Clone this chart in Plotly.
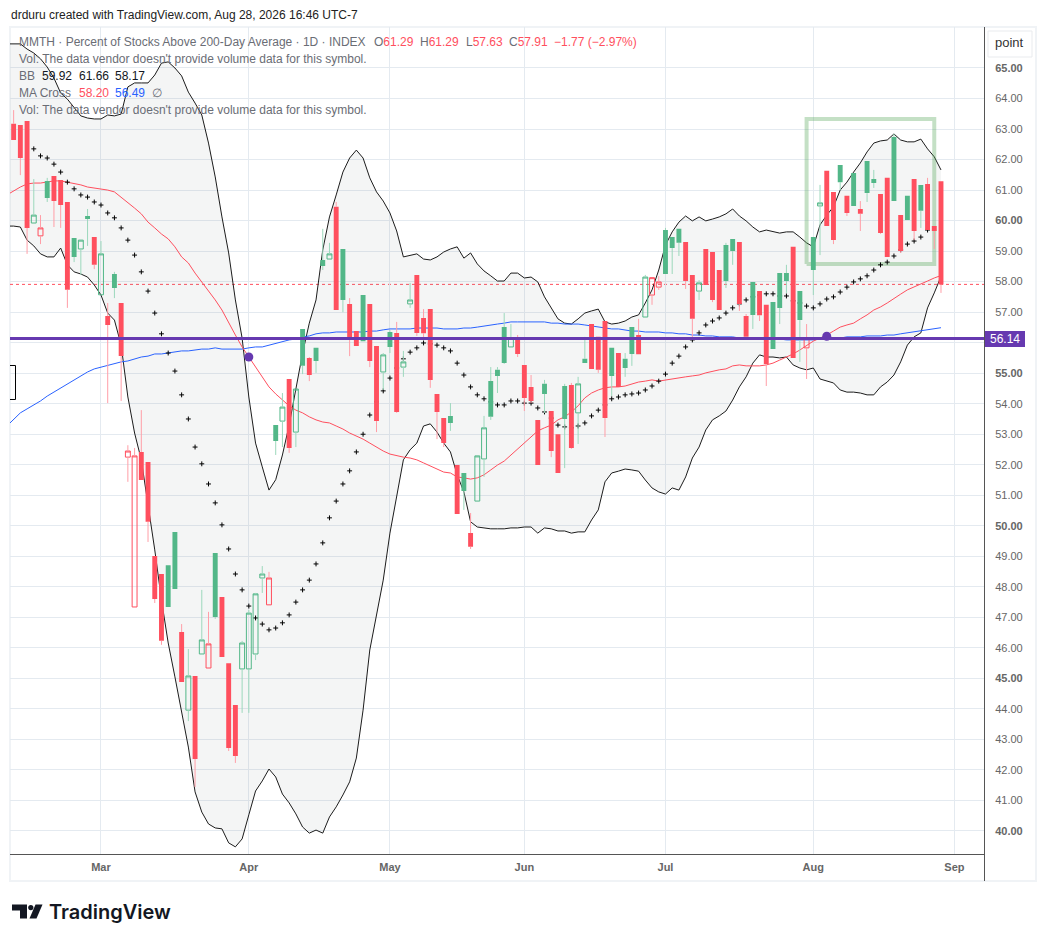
import pandas as pd
import plotly.graph_objects as go

# trading days, first one only carries the indicators (it sits left of the frame)
holidays = ["2026-02-16", "2026-04-03", "2026-05-25", "2026-06-19", "2026-07-03"]
dates = [d.strftime("%Y-%m-%d") for d in pd.bdate_range("2026-02-09", "2026-09-01")
         if d.strftime("%Y-%m-%d") not in holidays]
candle_dates = dates[1:140]

opens = [63.17, 63.13, 63.26, 59.92, 59.50, 61.30, 61.46, 61.33, 60.61, 59.43,
         59.07, 60.15, 59.46, 57.57, 56.87, 58.25, 57.30, 52.25, 47.34, 52.42,
         52.09, 49.01, 48.42, 48.71, 49.80, 46.52, 43.96, 45.08, 45.80, 45.34,
         49.11, 47.67, 45.50, 44.13, 45.31, 45.31, 45.80, 48.29, 47.41, 53.30,
         53.43, 54.81, 53.07, 56.45, 55.50, 55.83, 58.71, 58.74, 60.45, 59.07,
         57.27, 56.38, 57.56, 57.27, 55.89, 55.04, 56.35, 56.32, 55.20, 57.27,
         58.22, 56.81, 57.10, 54.32, 53.53, 53.60, 51.99, 51.73, 49.76, 50.81,
         52.19, 54.74, 55.11, 56.51, 55.86, 56.09, 55.27, 54.55, 53.47, 54.65,
         53.76, 53.00, 54.58, 54.61, 53.70, 55.47, 56.61, 56.19, 56.71, 55.83,
         55.66, 55.47, 56.51, 56.25, 56.84, 57.56, 57.82, 59.69, 59.46, 59.73,
         59.30, 58.22, 57.69, 59.07, 58.97, 58.38, 59.20, 59.40, 59.30, 56.87,
         57.99, 57.69, 57.24, 57.33, 58.28, 58.28, 59.14, 57.69, 55.83, 59.46,
         60.48, 61.63, 60.94, 61.82, 60.81, 61.56, 60.38, 61.95, 61.36, 60.87,
         61.40, 62.74, 60.18, 60.81, 61.36, 61.17, 61.20, 59.82, 61.29]
highs = [63.62, 63.13, 63.26, 61.36, 60.18, 61.40, 61.46, 61.33, 60.61, 59.43,
         59.36, 60.38, 59.46, 59.33, 57.30, 58.32, 57.30, 52.64, 52.55, 53.79,
         52.09, 49.01, 48.42, 48.71, 49.80, 46.78, 45.96, 45.08, 47.90, 47.18,
         49.11, 47.67, 45.50, 44.13, 46.23, 47.24, 47.80, 48.68, 48.49, 53.30,
         54.35, 54.81, 54.48, 56.45, 55.53, 55.83, 59.73, 59.27, 60.61, 59.07,
         57.46, 56.38, 57.56, 57.27, 55.89, 55.66, 56.41, 56.68, 55.73, 57.96,
         58.22, 57.10, 57.10, 54.32, 53.53, 54.02, 51.99, 51.73, 50.42, 52.29,
         53.60, 55.20, 55.20, 56.97, 56.61, 56.25, 55.27, 54.94, 53.47, 54.78,
         53.76, 53.00, 54.65, 54.68, 54.88, 56.19, 56.61, 56.19, 56.71, 55.83,
         55.66, 55.66, 56.51, 56.78, 58.22, 58.13, 58.18, 59.76, 59.46, 59.73,
         59.30, 58.22, 58.05, 59.07, 58.97, 58.38, 59.27, 59.40, 59.30, 56.94,
         57.99, 57.69, 57.24, 57.33, 58.28, 58.55, 59.14, 57.69, 56.61, 59.46,
         61.17, 61.63, 60.94, 61.82, 60.81, 61.56, 60.64, 61.95, 61.66, 60.87,
         61.40, 62.84, 60.18, 60.81, 61.36, 61.17, 61.40, 59.82, 61.29]
lows = [62.64, 61.49, 58.91, 59.92, 59.23, 60.61, 59.79, 59.76, 57.14, 58.64,
        58.22, 59.17, 58.41, 57.57, 54.02, 57.46, 54.09, 51.44, 47.34, 51.50,
        49.47, 47.47, 46.10, 47.34, 47.93, 44.88, 43.60, 41.44, 45.80, 45.34,
        46.95, 45.70, 42.62, 42.23, 43.87, 43.87, 45.60, 47.80, 47.41, 52.32,
        52.58, 52.39, 52.58, 54.97, 54.74, 55.01, 58.38, 58.74, 57.07, 57.00,
        55.56, 55.89, 56.05, 55.20, 53.07, 54.45, 55.66, 53.70, 54.88, 57.14,
        56.22, 56.15, 54.52, 52.84, 52.58, 53.11, 50.39, 50.52, 49.24, 50.81,
        51.60, 53.47, 54.35, 55.30, 55.86, 55.53, 53.76, 54.02, 51.99, 53.70,
        52.25, 51.73, 51.89, 52.52, 52.68, 55.33, 55.14, 55.01, 52.91, 54.25,
        54.55, 54.88, 55.24, 55.62, 56.84, 57.24, 57.73, 58.25, 58.25, 58.84,
        57.76, 56.09, 57.40, 57.89, 57.33, 57.07, 57.79, 58.55, 57.04, 56.19,
        56.45, 56.71, 54.58, 55.79, 56.61, 57.63, 55.50, 55.37, 54.81, 57.56,
        58.87, 59.82, 59.23, 61.00, 60.15, 60.48, 59.66, 60.61, 61.07, 59.56,
        58.81, 60.64, 58.94, 60.02, 59.36, 59.76, 59.69, 59.07, 57.63]
closes = [62.64, 62.05, 59.76, 60.18, 59.76, 60.74, 60.64, 60.51, 57.73, 58.81,
          59.36, 60.05, 58.55, 58.91, 56.58, 57.79, 55.56, 52.45, 52.29, 51.50,
          50.13, 47.60, 46.23, 47.34, 47.93, 44.88, 45.08, 42.36, 46.26, 46.13,
          47.01, 45.70, 42.72, 42.46, 46.16, 47.14, 47.77, 48.42, 48.29, 52.78,
          53.89, 52.55, 54.48, 55.24, 54.94, 55.40, 58.51, 58.91, 57.07, 57.40,
          56.15, 55.89, 56.05, 55.40, 53.43, 55.60, 55.86, 53.73, 55.37, 57.40,
          56.32, 56.31, 54.78, 53.73, 52.71, 53.37, 50.39, 51.14, 49.31, 52.29,
          53.21, 53.57, 54.91, 55.33, 56.15, 55.63, 54.19, 54.09, 51.99, 54.32,
          52.45, 51.73, 53.50, 52.55, 54.65, 55.33, 55.14, 55.11, 53.53, 54.91,
          54.55, 55.17, 55.63, 55.62, 58.15, 58.13, 57.99, 58.25, 59.10, 59.27,
          58.02, 56.78, 57.96, 57.89, 57.40, 57.07, 58.02, 59.00, 57.27, 56.19,
          56.91, 56.90, 55.30, 55.79, 57.14, 58.02, 55.50, 56.74, 56.15, 58.38,
          60.58, 59.82, 59.36, 61.26, 60.25, 60.48, 60.22, 60.90, 61.23, 59.59,
          58.81, 60.64, 59.00, 60.02, 59.66, 60.32, 59.69, 59.66, 57.91]

bb_upper = [65.79, 65.79, 65.79, 65.62, 65.49, 65.30, 65.03, 64.67, 64.18, 63.98,
            63.72, 63.43, 63.36, 63.33, 63.33, 63.46, 63.43, 63.49, 64.38, 64.51,
            64.51, 64.51, 64.77, 65.16, 65.20, 65.00, 64.74, 64.21, 63.85, 63.46,
            62.54, 61.43, 60.12, 58.94, 57.40, 56.15, 54.22, 52.71, 51.93, 51.17,
            51.51, 52.32, 53.30, 54.45, 55.66, 56.64, 57.40, 59.04, 60.12, 60.84,
            61.59, 62.05, 62.31, 62.05, 61.40, 60.94, 60.64, 60.25, 59.66, 58.81,
            58.87, 58.91, 58.74, 58.71, 58.81, 58.97, 59.07, 59.14, 58.77, 58.94,
            58.58, 58.35, 58.19, 58.02, 58.02, 58.28, 58.28, 58.12, 58.15, 57.99,
            57.50, 57.14, 56.78, 56.64, 56.61, 56.78, 56.97, 57.04, 57.10, 56.68,
            56.61, 56.64, 56.71, 56.84, 56.91, 57.30, 57.73, 58.38, 59.20, 59.63,
            59.95, 60.15, 59.99, 60.12, 59.99, 60.05, 60.12, 60.22, 60.38, 60.15,
            59.99, 59.79, 59.63, 59.69, 59.63, 59.59, 59.63, 59.63, 59.46, 59.27,
            59.14, 59.86, 60.18, 60.45, 61.00, 61.26, 61.59, 61.89, 62.25, 62.54,
            62.61, 62.64, 62.84, 62.64, 62.58, 62.58, 62.67, 62.35, 62.09, 61.66]
bb_lower = [59.82, 59.82, 59.79, 59.36, 59.17, 58.91, 58.81, 58.81, 59.10, 58.55,
            58.32, 58.25, 58.15, 57.89, 57.56, 56.97, 56.74, 55.92, 54.22, 53.04,
            52.16, 50.75, 49.21, 47.57, 46.16, 45.05, 43.87, 42.75, 41.28, 40.62,
            40.23, 40.10, 40.07, 39.61, 39.48, 39.74, 40.53, 41.31, 41.64, 42.03,
            41.77, 41.21, 40.92, 40.56, 40.13, 39.93, 40.03, 39.93, 40.46, 40.79,
            41.18, 41.61, 42.39, 43.96, 45.93, 47.14, 48.22, 49.76, 51.01, 52.16,
            52.49, 52.71, 53.27, 53.34, 53.07, 52.71, 52.42, 51.67, 51.11, 50.13,
            49.96, 49.93, 49.90, 49.90, 49.90, 49.93, 49.93, 49.96, 49.96, 49.76,
            49.93, 49.90, 49.83, 49.83, 49.76, 49.80, 49.80, 50.19, 50.52, 51.44,
            51.73, 51.79, 51.86, 51.83, 51.79, 51.50, 51.24, 51.11, 51.04, 51.24,
            51.17, 51.60, 52.22, 52.58, 53.14, 53.47, 53.60, 53.76, 54.12, 54.55,
            54.88, 55.33, 55.60, 55.53, 55.53, 55.50, 55.53, 55.27, 55.17, 55.11,
            55.17, 54.81, 54.74, 54.68, 54.45, 54.38, 54.38, 54.35, 54.29, 54.29,
            54.55, 54.71, 54.94, 55.37, 55.92, 56.19, 56.32, 57.14, 57.63, 58.17]
ma_fast = [60.84, 60.97, 61.10, 61.20, 61.23, 61.23, 61.26, 61.30, 61.30, 61.26,
           61.23, 61.17, 61.10, 61.07, 61.04, 61.00, 60.94, 60.77, 60.61, 60.41,
           60.22, 59.95, 59.76, 59.56, 59.40, 59.14, 58.81, 58.61, 58.28, 57.99,
           57.66, 57.40, 57.07, 56.64, 56.25, 55.86, 55.53, 55.17, 54.84, 54.55,
           54.32, 54.12, 53.93, 53.79, 53.70, 53.57, 53.47, 53.40, 53.37, 53.27,
           53.17, 53.04, 52.94, 52.84, 52.71, 52.58, 52.45, 52.35, 52.29, 52.25,
           52.22, 52.16, 52.06, 51.96, 51.86, 51.76, 51.73, 51.60, 51.57, 51.53,
           51.57, 51.67, 51.83, 51.99, 52.12, 52.32, 52.49, 52.71, 52.91, 53.11,
           53.21, 53.30, 53.47, 53.57, 53.73, 53.93, 54.19, 54.35, 54.45, 54.52,
           54.55, 54.55, 54.58, 54.65, 54.71, 54.74, 54.78, 54.74, 54.78, 54.81,
           54.84, 54.88, 54.91, 54.94, 55.01, 55.07, 55.11, 55.14, 55.24, 55.27,
           55.24, 55.24, 55.24, 55.27, 55.33, 55.43, 55.53, 55.63, 55.76, 55.92,
           56.05, 56.15, 56.25, 56.38, 56.51, 56.58, 56.64, 56.78, 56.91, 57.07,
           57.17, 57.30, 57.46, 57.59, 57.73, 57.82, 57.92, 58.02, 58.12, 58.20]
ma_slow = [53.27, 53.50, 53.70, 53.83, 53.96, 54.09, 54.25, 54.38, 54.52, 54.65,
           54.78, 54.91, 55.04, 55.14, 55.20, 55.27, 55.33, 55.37, 55.40, 55.47,
           55.53, 55.56, 55.63, 55.63, 55.66, 55.69, 55.73, 55.73, 55.76, 55.79,
           55.79, 55.83, 55.79, 55.79, 55.79, 55.79, 55.83, 55.86, 55.86, 55.92,
           55.96, 56.02, 56.09, 56.12, 56.19, 56.22, 56.29, 56.32, 56.32, 56.35,
           56.35, 56.35, 56.35, 56.35, 56.38, 56.38, 56.42, 56.45, 56.45, 56.45,
           56.45, 56.48, 56.48, 56.48, 56.48, 56.45, 56.45, 56.45, 56.48, 56.48,
           56.51, 56.55, 56.58, 56.61, 56.64, 56.68, 56.68, 56.68, 56.68, 56.68,
           56.68, 56.64, 56.64, 56.61, 56.61, 56.61, 56.58, 56.55, 56.51, 56.48,
           56.45, 56.45, 56.42, 56.38, 56.38, 56.35, 56.35, 56.35, 56.32, 56.32,
           56.29, 56.29, 56.25, 56.25, 56.22, 56.22, 56.19, 56.19, 56.19, 56.15,
           56.15, 56.15, 56.12, 56.12, 56.12, 56.12, 56.09, 56.09, 56.09, 56.09,
           56.09, 56.12, 56.15, 56.15, 56.15, 56.19, 56.19, 56.19, 56.22, 56.22,
           56.22, 56.25, 56.25, 56.29, 56.32, 56.35, 56.38, 56.43, 56.46, 56.49]
# parabolic SAR starts on 2026-02-13 and stops two bars before the last one
sar = [62.35, 62.12, 62.05, 61.85, 61.59, 61.26, 61.04, 60.84, 60.77, 60.61,
       60.51, 60.25, 60.09, 59.76, 59.36, 58.87, 58.32, 57.69, 56.97, 56.29,
       55.66, 55.07, 54.29, 53.50, 52.58, 52.03, 51.37, 50.75, 50.03, 49.24,
       48.42, 47.90, 47.37, 46.98, 46.78, 46.59, 46.65, 46.82, 47.08, 47.50,
       47.90, 48.22, 48.75, 49.44, 50.26, 50.81, 51.37, 51.80, 52.42, 53.00,
       53.63, 54.06, 54.42, 54.84, 55.17, 55.47, 55.69, 55.83, 55.99, 55.96,
       55.92, 55.83, 55.73, 55.33, 54.94, 54.55, 54.29, 54.16, 54.06, 53.96,
       53.96, 54.09, 54.09, 54.02, 54.02, 53.86, 53.73, 53.53, 53.30, 53.24,
       53.21, 53.27, 53.37, 53.60, 53.79, 53.96, 54.16, 54.22, 54.29, 54.32,
       54.35, 54.45, 54.58, 54.74, 54.97, 55.33, 55.56, 55.86, 56.09, 56.32,
       56.58, 56.71, 56.81, 56.97, 57.14, 57.27, 57.40, 57.50, 57.56, 57.60,
       57.60, 57.53, 57.53, 57.37, 57.30, 57.20, 57.14, 57.27, 57.43, 57.50,
       57.66, 57.82, 57.99, 58.09, 58.19, 58.38, 58.55, 58.64, 58.84, 59.04,
       59.23, 59.33, 59.46, 59.69]
sar_dates = dates[4:138]

cross_dates = ["2026-04-01", "2026-08-05"]
cross_values = [55.53, 56.21]

level_purple = 56.14
level_close = 57.91
box_dates = ["2026-07-31", "2026-08-27"]
box_values = [58.58, 63.33]

month_days = ["2026-03-02", "2026-04-01", "2026-05-01", "2026-06-01", "2026-07-01", "2026-08-03", "2026-09-01"]
month_names = ["Mar", "Apr", "May", "Jun", "Jul", "Aug", "Sep"]
# 56.00 is hidden behind the purple price badge
price_ticks = list(range(40, 66))
price_labels = [f"<b>{p}.00</b>" if p % 5 == 0 else ("" if p == 56 else f"{p}.00") for p in price_ticks]

WIDTH, HEIGHT = 1046, 942
LEFT, RIGHT, TOP, BOTTOM = 10, 984, 27, 854
RED = "#FF4F5E"
GREEN = "#52B788"
RED_WICK = "#FF9EA7"
GREEN_WICK = "#9CD8BC"
PURPLE = "#6639B0"
GREY = "#6A6D75"
FONT = "Liberation Sans"
x_range = [0.46, 145.4]
y_range = [39.246, 66.343]


# paper coordinates count from the plot area, so convert from picture pixels
def px(x):
    return (x - LEFT) / (RIGHT - LEFT)


def py(y):
    return 1 - (y - TOP) / (BOTTOM - TOP)


def poly(points):
    return "M" + " L".join(f"{px(x):.5f},{py(y):.5f}" for x, y in points) + " Z"


def label(x, y, text, color=GREY, size=12, anchor="left"):
    fig.add_annotation(xref="paper", yref="paper", x=px(x), y=py(y), text=text, showarrow=False,
                       xanchor=anchor, yanchor="middle", borderpad=0,
                       font=dict(family=FONT, size=size, color=color))


def red(text):
    return f'<span style="color:{RED}">{text}</span>'


fig = go.Figure()

# indicators go on the main axes, candles on an overlay so they stay on top
fig.add_trace(go.Scatter(x=dates, y=bb_upper, mode="lines", line=dict(color="#1c1c1c", width=1)))
fig.add_trace(go.Scatter(x=dates, y=bb_lower, mode="lines", line=dict(color="#1c1c1c", width=1),
                         fill="tonexty", fillcolor="rgba(120,130,130,0.08)"))
fig.add_trace(go.Scatter(x=[box_dates[0], box_dates[1], box_dates[1], box_dates[0], box_dates[0]],
                         y=[box_values[0], box_values[0], box_values[1], box_values[1], box_values[0]],
                         mode="lines", line=dict(color="rgba(76,160,80,0.33)", width=4)))
fig.add_trace(go.Scatter(x=dates, y=ma_slow, mode="lines", line=dict(color="#2962FF", width=1)))
fig.add_trace(go.Scatter(x=dates, y=ma_fast, mode="lines", line=dict(color=RED, width=1)))
fig.add_trace(go.Scatter(x=sar_dates, y=sar, mode="markers",
                         marker=dict(symbol="cross-thin", size=3.5, color="black",
                                     line=dict(width=1, color="black"))))

# hollow candles: hollow when close > open, colour from close against the previous close
rising = [False] + [closes[i] >= closes[i - 1] for i in range(1, len(closes))]
wicks = {True: ([], []), False: ([], [])}
body_x = {True: [], False: []}
body = {True: ([], [], [], []), False: ([], [], [], [])}
for i, d in enumerate(candle_dates):
    up = rising[i]
    top, bottom = max(opens[i], closes[i]), min(opens[i], closes[i])
    wicks[up][0].extend([d, d, None, d, d, None])
    wicks[up][1].extend([highs[i], top, None, bottom, lows[i], None])
    body_x[up].append(d)
    for part, v in zip(body[up], (opens[i], top, bottom, closes[i])):
        part.append(v)

for up, color, wick_color in [(True, GREEN, GREEN_WICK), (False, RED, RED_WICK)]:
    fig.add_trace(go.Candlestick(
        x=body_x[up], open=body[up][0], high=body[up][1], low=body[up][2], close=body[up][3],
        increasing=dict(line=dict(color=color, width=1), fillcolor="rgba(0,0,0,0)"),
        decreasing=dict(line=dict(color=color, width=0), fillcolor=color),
        xaxis="x2", yaxis="y2"))
    fig.add_trace(go.Scatter(x=wicks[up][0], y=wicks[up][1], mode="lines",
                             line=dict(color=wick_color, width=1), connectgaps=False,
                             xaxis="x2", yaxis="y2"))

fig.add_trace(go.Scatter(x=cross_dates, y=cross_values, mode="markers",
                         marker=dict(size=9, color=PURPLE), xaxis="x2", yaxis="y2"))

fig.update_layout(
    width=WIDTH, height=HEIGHT,
    margin=dict(l=LEFT, r=WIDTH - RIGHT, t=TOP, b=HEIGHT - BOTTOM, autoexpand=False),
    paper_bgcolor="white", plot_bgcolor="white",
    showlegend=False, boxmode="overlay", boxgap=0.27, boxgroupgap=0,
    font=dict(family=FONT, size=11, color="#666666"),
    xaxis=dict(type="category", categoryorder="array", categoryarray=dates, range=x_range,
               tickmode="array", tickvals=month_days,
               ticktext=[f"<b>{m}</b>" for m in month_names],
               showgrid=True, gridcolor="#E4EAF0", gridwidth=1, zeroline=False,
               ticks="outside", ticklen=3, tickcolor="rgba(0,0,0,0)",
               tickfont=dict(size=11, color="#666666"), rangeslider=dict(visible=False)),
    yaxis=dict(range=y_range, side="right", tickmode="array", tickvals=price_ticks, ticktext=price_labels,
               showgrid=True, gridcolor="#E4EAF0", gridwidth=1, zeroline=False,
               ticks="outside", ticklen=8, tickcolor="rgba(0,0,0,0)",
               tickfont=dict(size=11, color="#666666")),
    xaxis2=dict(type="category", categoryorder="array", categoryarray=dates, range=x_range,
                overlaying="x", visible=False, rangeslider=dict(visible=False)),
    yaxis2=dict(range=y_range, overlaying="y", side="right", visible=False),
)

frame = dict(type="rect", xref="paper", yref="paper", x0=px(10), x1=px(1036), y0=py(881), y1=py(27),
             line=dict(color="#F0F3F6", width=2), layer="below")
close_line = dict(type="line", xref="paper", yref="y", x0=px(10), x1=px(984), y0=level_close, y1=level_close,
                  line=dict(color=RED, width=1, dash="dot"), layer="below")
purple_line = dict(type="line", xref="paper", yref="y", x0=px(10), x1=px(984), y0=level_purple, y1=level_purple,
                   line=dict(color=PURPLE, width=3), layer="above")
x_axis_line = dict(type="line", xref="paper", yref="paper", x0=px(10), x1=px(984), y0=py(854.5), y1=py(854.5),
                   line=dict(color="#555555", width=1), layer="above")
y_axis_line = dict(type="line", xref="paper", yref="paper", x0=px(984.5), x1=px(984.5), y0=py(881), y1=py(27),
                   line=dict(color="#555555", width=1), layer="above")
bracket = dict(type="path", xref="paper", yref="paper", layer="above", line=dict(color="black", width=1),
               path=f"M{px(10):.5f},{py(365.5):.5f} L{px(15.5):.5f},{py(365.5):.5f} "
                    f"L{px(15.5):.5f},{py(399.5):.5f} L{px(10):.5f},{py(399.5):.5f}")
badge = dict(type="rect", xref="paper", yref="paper", x0=px(985), x1=px(1025), y0=py(347), y1=py(331),
             line=dict(width=0), fillcolor=PURPLE, layer="above")
point_box = dict(type="rect", xref="paper", yref="paper", x0=px(988), x1=px(1032), y0=py(57), y1=py(31),
                 line=dict(color="#E9EBEE", width=1), fillcolor="white", layer="above")
logo_t = dict(type="path", xref="paper", yref="paper", layer="above", fillcolor="#131722", line=dict(width=0),
              path=poly([(12, 904.5), (27, 904.5), (27, 918.5), (20, 918.5), (20, 910.5), (12, 910.5)]))
logo_dot = dict(type="circle", xref="paper", yref="paper", layer="above", fillcolor="#131722", line=dict(width=0),
                x0=px(28.2), x1=px(33.4), y0=py(910.2), y1=py(905))
logo_slash = dict(type="path", xref="paper", yref="paper", layer="above", fillcolor="#131722", line=dict(width=0),
                  path=poly([(35.5, 904.5), (42.5, 904.5), (36.5, 918.5), (29.5, 918.5)]))
fig.update_layout(shapes=[frame, close_line, purple_line, x_axis_line, y_axis_line, bracket, badge, point_box,
                          logo_t, logo_dot, logo_slash])

label(10, 15, "drduru created with TradingView.com, Aug 28, 2026 16:46 UTC-7", color="#222222")
label(18, 42, "MMTH · Percent of Stocks Above 200-Day Average · 1D · INDEX")
label(373, 42, "O" + red("61.29"))
label(419, 42, "H" + red("61.29"))
label(464.5, 42, "L" + red("57.63"))
label(508, 42, "C" + red("57.91"))
label(553, 42, "−1.77 (−2.97%)", color=RED)
label(18, 59, "Vol: The data vendor doesn't provide volume data for this symbol.")
label(18, 76, "BB")
label(41, 76, "59.92", color="#131722")
label(77.5, 76, "61.66", color="#131722")
label(114, 76, "58.17", color="#131722")
label(18, 93, "MA Cross")
label(77.5, 93, "58.20", color=RED)
label(114, 93, "56.49", color="#2962FF")
label(151, 93, "∅")
label(18, 110, "Vol: The data vendor doesn't provide volume data for this symbol.")
label(1005, 339, "56.14", color="white", anchor="center")
label(1010, 43, "point", color="#333333", size=13, anchor="center")
fig.add_annotation(xref="paper", yref="paper", x=px(47), y=py(912), text="TradingView", showarrow=False,
                   xanchor="left", yanchor="middle",
                   font=dict(family="Inter", size=20, color="#131722", weight=600))

fig.write_html("out.html", config=dict(displayModeBar=False),
               post_script="document.body.style.margin='0';document.body.style.overflow='hidden';")
